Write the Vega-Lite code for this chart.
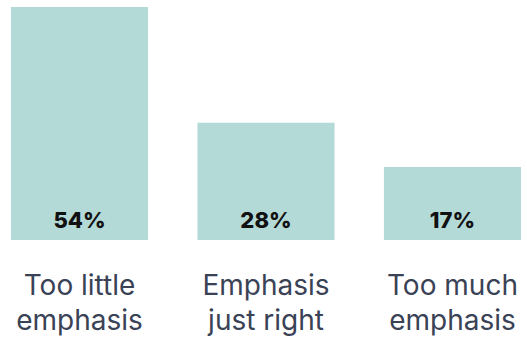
{
  "$schema": "https://vega.github.io/schema/vega-lite/v6.json",
  "autosize": "none",
  "width": 510,
  "height": 233,
  "padding": {"left": 11, "top": 7, "right": 6, "bottom": 101},
  "background": "white",
  "config": {"view": {"stroke": null}},
  "data": {"values": [
    {"category": "Too little|emphasis", "share": 54, "label": "54%"},
    {"category": "Emphasis|just right", "share": 27.2, "label": "28%"},
    {"category": "Too much|emphasis", "share": 16.9, "label": "17%"}
  ]},
  "encoding": {
    "x": {"field": "category", "type": "nominal", "sort": null,
      "scale": {"paddingInner": 0.265, "paddingOuter": 0},
      "axis": {"title": null, "domain": false, "ticks": false, "labelAngle": 0,
        "labelExpr": "split(datum.value, '|')", "labelFont": "Inter", "labelFontSize": 28,
        "labelColor": "#3a4256", "labelLineHeight": 35, "labelPadding": 54, "labelBaseline": "alphabetic"}}
  },
  "layer": [
    {"mark": {"type": "bar", "color": "#b4dad7"},
     "encoding": {"y": {"field": "share", "type": "quantitative", "scale": {"domain": [0, 54], "nice": false}, "axis": null}}},
    {"mark": {"type": "text", "font": "Inter", "fontWeight": 800, "fontSize": 22, "color": "#111111", "baseline": "alphabetic", "dy": -12},
     "encoding": {"y": {"datum": 0, "type": "quantitative"}, "text": {"field": "label"}}}
  ]
}
